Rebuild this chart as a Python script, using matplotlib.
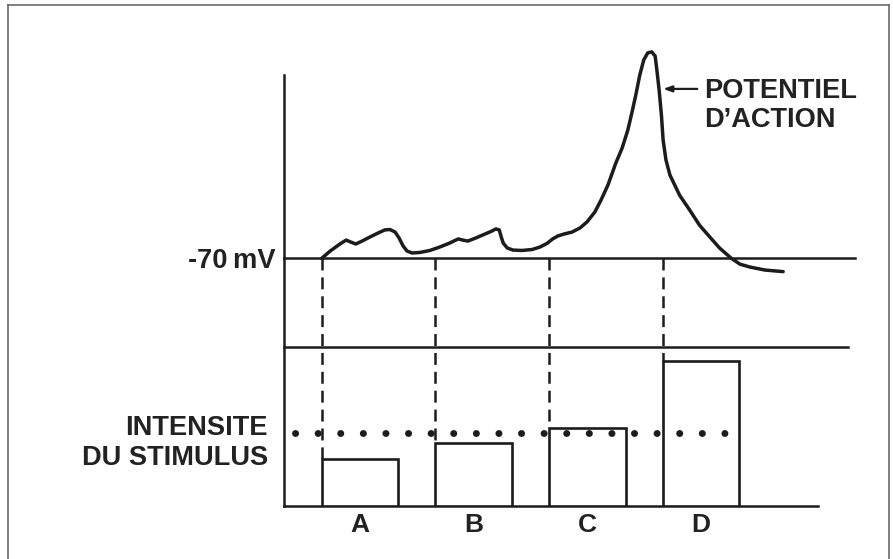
import matplotlib
matplotlib.use("Agg")
import matplotlib.pyplot as plt
from matplotlib.lines import Line2D

plt.rcParams['font.family'] = ['Liberation Sans', 'DejaVu Sans']
plt.rcParams['lines.scale_dashes'] = False

# ---------------- data ----------------
# membrane potential trace (time in arbitrary ms units, potential in mV)
trace_t = [1.00, 1.15, 1.32, 1.43, 1.51, 1.60, 1.71, 1.85, 1.99, 2.11, 2.20,
           2.29, 2.36, 2.43, 2.50, 2.59, 2.73, 2.90, 3.08, 3.25, 3.40, 3.48,
           3.57, 3.71, 3.87, 3.99, 4.06, 4.12, 4.15, 4.19, 4.26, 4.36, 4.52,
           4.70, 4.84, 4.96, 5.06, 5.15, 5.26, 5.40, 5.54, 5.66, 5.80, 5.91,
           6.03, 6.17, 6.28, 6.38, 6.45, 6.52, 6.59, 6.66, 6.73, 6.80, 6.86,
           6.89, 6.93, 6.97, 7.00, 7.05, 7.12, 7.29, 7.47, 7.64, 7.82, 7.99,
           8.19, 8.35, 8.53, 8.79, 9.11]
trace_mv = [-70.0, -66.3, -62.7, -60.7, -61.7, -62.7, -61.2, -59.1, -57.1, -55.5, -55.3,
            -56.6, -59.6, -63.7, -66.3, -67.3, -67.0, -66.0, -64.2, -62.2, -60.1, -60.7,
            -61.2, -59.6, -57.6, -56.1, -55.0, -55.5, -58.6, -62.2, -64.7, -65.8, -66.0,
            -65.5, -64.2, -62.4, -60.1, -58.6, -57.6, -56.6, -54.5, -51.5, -46.4, -40.2,
            -32.6, -21.3, -13.7, -4.5, 4.2, 13.4, 23.6, 31.3, 34.9, 35.4, 33.3,
            26.2, 15.9, 3.2, -9.6, -19.8, -27.5, -37.8, -45.5, -53.1, -59.1, -64.7,
            -69.8, -73.0, -74.5, -76.0, -76.8]
resting_mv = -70

# stimuli
categories = ['A', 'B', 'C', 'D']
stim_onset = [1.0, 3.0, 5.0, 7.0]
stim_intensity = [3.2, 4.3, 5.33, 9.95]
threshold = 5.0

# ---------------- figure ----------------
W, H = 893, 559
fig = plt.figure(figsize=(W / 100, H / 100), dpi=100)
fig.patch.set_facecolor('white')

ink = '#1c1c1c'
txt = '#222222'

def fx(px):
    return px / W

def fy(py):
    return 1 - py / H

left_px, right_px = 283.5, 855
ax_v = fig.add_axes([fx(left_px), fy(258.3), fx(right_px) - fx(left_px), fy(75) - fy(258.3)])
ax_s = fig.add_axes([fx(left_px), fy(506), fx(right_px) - fx(left_px), fy(258.3) - fy(506)],
                    sharex=ax_v)

t0, t1 = 0.329, 10.372
ax_v.set_xlim(t0, t1)
ax_v.set_ylim(resting_mv, 23.6)
ax_s.set_ylim(0, 17.0)

for ax in (ax_v, ax_s):
    ax.set_facecolor('none')
    ax.tick_params(left=False, bottom=False, labelleft=False, labelbottom=False)
    for s in ('top', 'right'):
        ax.spines[s].set_visible(False)
    for s in ('left', 'bottom'):
        ax.spines[s].set_color(ink)
        ax.spines[s].set_linewidth(1.8)

ax_s.spines['bottom'].set_bounds(t0, 9.72)

# membrane potential
ax_v.plot(trace_t, trace_mv, color=ink, lw=2.5, clip_on=False,
          solid_joinstyle='round', solid_capstyle='round', zorder=5)

# upper line of stimulus panel
ax_s.plot([t0, 10.25], [10.91, 10.91], color=ink, lw=1.8, clip_on=False)

# bars
ax_s.bar(stim_onset, stim_intensity, width=1.34, align='edge',
         facecolor='white', edgecolor=ink, linewidth=1.9, zorder=3)

# dashed link lines from the resting line down to each bar
for t, h in zip(stim_onset, stim_intensity):
    ax_s.plot([t, t], [17.0, h], color=ink, lw=1.8,
              linestyle=(0, (8.6, 5.0)), zorder=2)

# threshold dotted line
ax_s.plot([0.53, 8.09], [threshold, threshold], color=ink, lw=5.0,
          linestyle=(0, (0.1, 16.17)), dash_capstyle='round', zorder=4, clip_on=False)

# category letters
for t, c in zip(stim_onset, categories):
    ax_s.text(t + 0.67, -1.78, c, ha='center', va='baseline', fontsize=19,
              fontweight='bold', color=txt, clip_on=False)

# labels
fs = 19.6
fig.text(fx(276), fy(267.7), '-70\u2009mV', ha='right', va='baseline',
         fontsize=fs, fontweight='bold', color=txt)
fig.text(fx(268), fy(435), 'INTENSITE', ha='right', va='baseline',
         fontsize=fs, fontweight='bold', color=txt)
fig.text(fx(268), fy(465), 'DU STIMULUS', ha='right', va='baseline',
         fontsize=fs, fontweight='bold', color=txt)
fig.text(fx(704), fy(97.5), 'POTENTIEL', ha='left', va='baseline',
         fontsize=fs, fontweight='bold', color=txt)
fig.text(fx(704), fy(127), 'D\u2019ACTION', ha='left', va='baseline',
         fontsize=fs, fontweight='bold', color=txt)

# arrow pointing to the spike
ax_v.annotate('', xy=(7.0, 16.5), xytext=(7.60, 16.5),
              arrowprops=dict(arrowstyle='-|>,head_length=0.5,head_width=0.18',
                              color=ink, lw=1.6, shrinkA=0, shrinkB=0),
              annotation_clip=False)

# outer frame
frame_col = '#6a6a6a'
fig.add_artist(Line2D([fx(8), fx(8)], [fy(5), -0.01], color=frame_col, lw=1.2))
fig.add_artist(Line2D([fx(8), fx(889)], [fy(5), fy(5)], color=frame_col, lw=1.2))
fig.add_artist(Line2D([fx(889), fx(889)], [fy(5), -0.01], color=frame_col, lw=1.2))

fig.savefig('out.png', dpi=100)
